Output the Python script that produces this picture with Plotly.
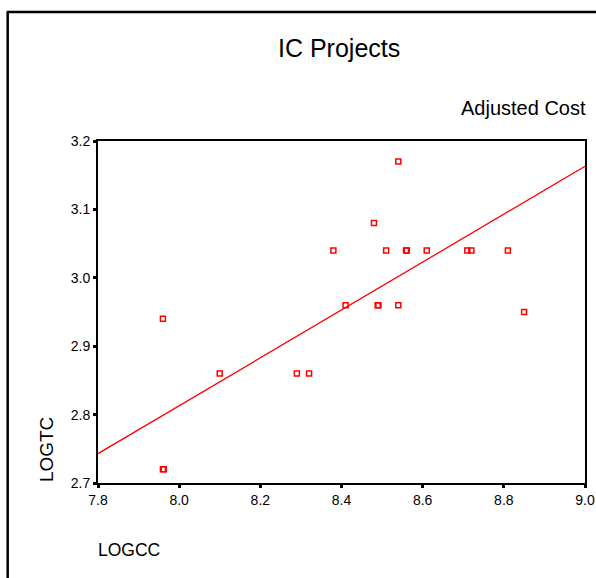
import plotly.graph_objects as go

# Data
logcc = [7.96, 7.96, 7.962, 8.10, 8.29, 8.32, 8.38, 8.41, 8.48, 8.489, 8.491,
         8.51, 8.54, 8.54, 8.559, 8.561, 8.61, 8.71, 8.72, 8.81, 8.85]
logtc = [2.94, 2.72, 2.72, 2.86, 2.86, 2.86, 3.04, 2.96, 3.08, 2.96, 2.96,
         3.04, 3.17, 2.96, 3.04, 3.04, 3.04, 3.04, 3.04, 3.04, 2.95]

fit_intercept = 0.013
fit_slope = 0.350
fit_x = [7.8, 9.0]
fit_y = [fit_intercept + fit_slope * v for v in fit_x]

x_ticks = [7.8, 8.0, 8.2, 8.4, 8.6, 8.8, 9.0]
y_ticks = [2.7, 2.8, 2.9, 3.0, 3.1, 3.2]

W, H = 596, 578
L, R, T, B = 97.5, 10.5, 141, 95
pw, ph = W - L - R, H - T - B

def px(xp):
    return (xp - L) / pw

def py(yp):
    return (H - B - yp) / ph

fig = go.Figure()
fig.add_trace(go.Scatter(x=fit_x, y=fit_y, mode="lines",
                         line=dict(color="#ff0000", width=1.3),
                         hoverinfo="skip", showlegend=False))
fig.add_trace(go.Scatter(x=logcc, y=logtc, mode="markers",
                         marker=dict(symbol="square-open", size=5,
                                     color="#ff0000",
                                     line=dict(color="#ff0000", width=1.5)),
                         showlegend=False))

axis_common = dict(showgrid=False, zeroline=False, showline=True,
                   linecolor="black", linewidth=2, mirror=True, automargin=False,
                   ticks="outside", ticklen=3, tickwidth=3, tickcolor="black",
                   tickfont=dict(family="Liberation Sans, Arial", size=14, color="black"))

fig.update_xaxes(range=[7.8, 9.0], tickvals=x_ticks,
                 ticktext=[f"{v:.1f}" for v in x_ticks], **axis_common)
fig.update_yaxes(range=[2.7, 3.2], tickvals=y_ticks,
                 ticktext=[f"{v:.1f}" for v in y_ticks], **axis_common)

annotations = [
    dict(text="IC Projects", x=px(339), y=py(48), xanchor="center", yanchor="middle",
         font=dict(family="Liberation Sans Narrow, Arial Narrow, Liberation Sans", size=25, color="black")),
    dict(text="Adjusted Cost", x=px(588.5), y=py(107.5), xanchor="right", yanchor="middle",
         font=dict(family="Liberation Sans, Arial", size=20, color="black")),
    dict(text="LOGTC", x=px(46), y=py(449.5), xanchor="center", yanchor="middle",
         textangle=-90,
         font=dict(family="Liberation Sans, Arial", size=19, color="black")),
    dict(text="LOGCC", x=px(95.5), y=py(550), xanchor="left", yanchor="middle",
         font=dict(family="Liberation Sans, Arial", size=17.5, color="black")),
]
for a in annotations:
    a.update(xref="paper", yref="paper", showarrow=False)

shapes = [
    dict(type="line", xref="paper", yref="paper", x0=px(7), x1=px(7),
         y0=py(12), y1=py(600), line=dict(color="black", width=2.5)),
    dict(type="line", xref="paper", yref="paper", x0=px(6), x1=px(620),
         y0=py(12), y1=py(12), line=dict(color="black", width=2.5)),
]

fig.update_layout(width=W, height=H, margin=dict(l=L, r=R, t=T, b=B),
                  paper_bgcolor="white", plot_bgcolor="white",
                  annotations=annotations, shapes=shapes,
                  font=dict(family="Liberation Sans, Arial", color="black"))

fig.write_html("out.html")
